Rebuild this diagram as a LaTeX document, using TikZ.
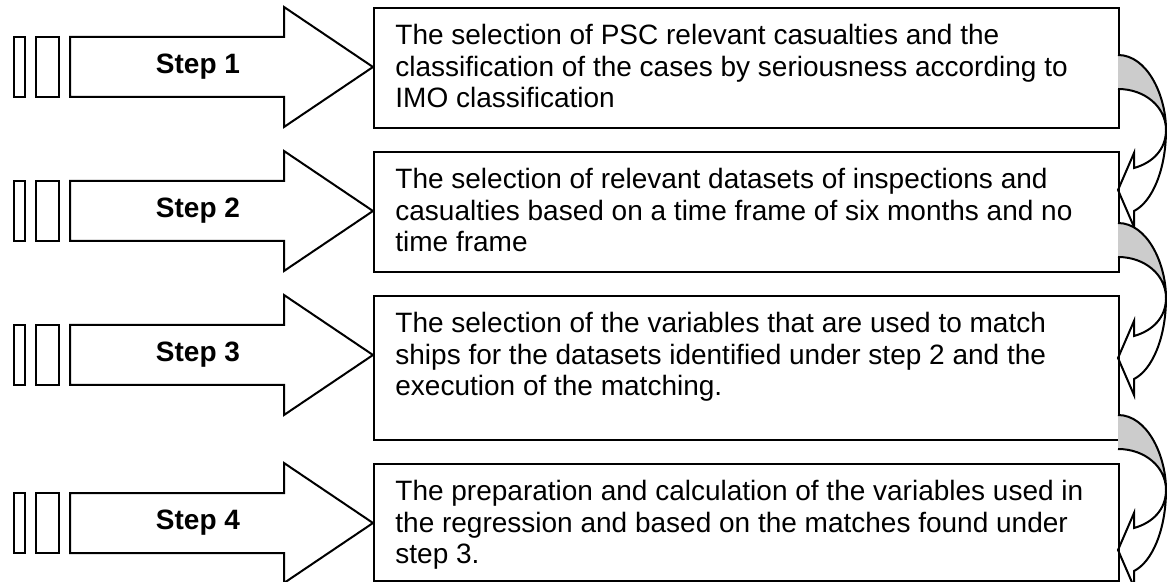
\documentclass[tikz,border=0pt]{standalone}
\usepackage{fontspec}
\setmainfont{Liberation Sans}
\definecolor{backface}{gray}{0.8}
\tikzset{
  stepbox/.style={draw, line width=1pt, anchor=north west, inner sep=0pt, minimum width=372.5pt},
  boxtext/.style={anchor=north west, inner sep=0pt, align=left, font=\fontsize{14}{15.8}\selectfont},
  steplabel/.style={font=\fontsize{14}{15.8}\selectfont\bfseries},
  blockarrow/.style={draw, line width=1pt, fill=white},
  turnarrow/.style={draw, line width=1pt},
}
\begin{document}
\begin{tikzpicture}[x=0.5pt,y=-0.5pt]
	\useasboundingbox (0,0) rectangle (1167,582);
	
	% Steps on the left
	\foreach \yc/\n in {67/1,211/2,355/3,523/4}{
		\draw[blockarrow] (14,\yc-30) rectangle (25,\yc+30);
		\draw[blockarrow] (36,\yc-30) rectangle (59,\yc+30);
		\draw[blockarrow] (70,\yc-30) -- (284,\yc-30) -- (284,\yc-60) -- (373,\yc) -- (284,\yc+60) -- (284,\yc+30) -- (70,\yc+30) -- cycle;
		\node[steplabel] (step\n) at (198,\yc) {Step \n};
	}
	
	% Boxes
	\node[stepbox, minimum height=60pt] (box1) at (373,7) {};
	\node[stepbox, minimum height=60pt] (box2) at (373,151) {};
	\node[stepbox, minimum height=72pt] (box3) at (373,295) {};
	\node[stepbox, minimum height=58.5pt] (box4) at (373,463) {};
	
	\node[boxtext] (text1) at ([xshift=11pt,yshift=-8.5pt]box1.north west) {The selection of PSC relevant casualties and the\\classification of the cases by seriousness according to\\IMO classification};
	\node[boxtext] (text2) at ([xshift=11pt,yshift=-8.5pt]box2.north west) {The selection of relevant datasets of inspections and\\casualties based on a time frame of six months and no\\time frame};
	\node[boxtext] (text3) at ([xshift=11pt,yshift=-8.5pt]box3.north west) {The selection of the variables that are used to match\\ships for the datasets identified under step 2 and the\\execution of the matching.};
	\node[boxtext] (text4) at ([xshift=11pt,yshift=-8.5pt]box4.north west) {The preparation and calculation of the variables used in\\the regression and based on the matches found under\\step 3.};
	
	% Turning arrows on the right
	\foreach \yo in {55,223,415}{
		\fill[backface] (1118,\yo) .. controls (1147,\yo) and (1166,\yo+40) .. (1166,\yo+75) .. controls (1166,\yo+52) and (1145,\yo+34) .. (1118,\yo+34) -- cycle;
		\draw[turnarrow] (1118,\yo) .. controls (1147,\yo) and (1166,\yo+40) .. (1166,\yo+75) .. controls (1166,\yo+115) and (1152,\yo+147) .. (1134,\yo+156) -- (1134,\yo+172) -- (1118,\yo+135) -- (1134,\yo+98) -- (1134,\yo+113) .. controls (1152,\yo+108) and (1166,\yo+95) .. (1166,\yo+75) .. controls (1166,\yo+52) and (1145,\yo+34) .. (1118,\yo+34);
	}
	
\end{tikzpicture}
\end{document}
